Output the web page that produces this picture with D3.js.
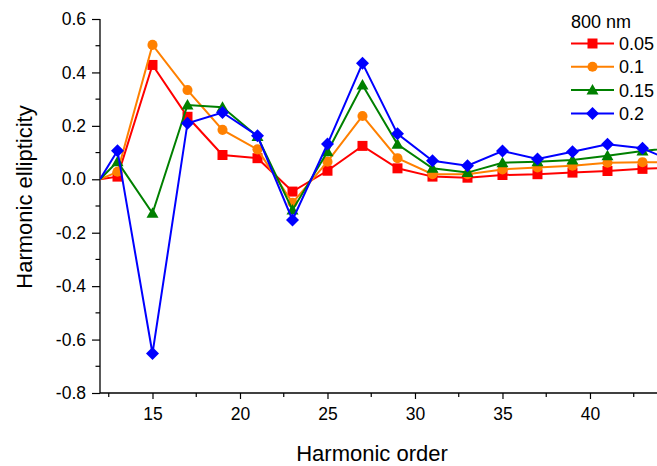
<!DOCTYPE html>
<html>
<head>
<meta charset="utf-8">
<script src="https://cdn.jsdelivr.net/npm/d3@7"></script>
<style>
  body { margin: 0; background: #fff; }
  svg { display: block; font-family: "Liberation Sans", Arial, sans-serif; }
</style>
</head>
<body>
<svg id="chart" width="657" height="466"></svg>
<script>
// harmonic orders (12 is the zero start point, 45 runs off the right edge)
const orders = [12, 13, 15, 17, 19, 21, 23, 25, 27, 29, 31, 33, 35, 37, 39, 41, 43, 45];

const e005 = [0, 0.01, 0.428, 0.234, 0.091, 0.079, -0.046, 0.032, 0.125, 0.041, 0.01, 0.006, 0.016, 0.019, 0.025, 0.031, 0.039, 0.045];
const e010 = [0, 0.028, 0.503, 0.334, 0.185, 0.112, -0.088, 0.066, 0.237, 0.079, 0.019, 0.019, 0.037, 0.044, 0.051, 0.062, 0.064, 0.064];
const e015 = [0, 0.066, -0.127, 0.278, 0.27, 0.16, -0.115, 0.103, 0.353, 0.131, 0.041, 0.025, 0.062, 0.066, 0.072, 0.088, 0.106, 0.12];
const e020 = [0, 0.107, -0.652, 0.21, 0.25, 0.163, -0.152, 0.132, 0.434, 0.17, 0.069, 0.051, 0.106, 0.076, 0.103, 0.131, 0.116, 0.06];

const seriesNames = ["0.05", "0.1", "0.15", "0.2"];
const colors = ["#ff0000", "#ff8000", "#008000", "#0000ff"];
const shapes = ["square", "circle", "triangle", "diamond"];

const yTicks = [0.6, 0.4, 0.2, 0.0, -0.2, -0.4, -0.6, -0.8];
const xTicks = [15, 20, 25, 30, 35, 40];

const svg = d3.select("#chart");
const m = { left: 100, top: 19, right: 657, bottom: 393 };

const x = d3.scaleLinear().domain([12, 43.83]).range([m.left, m.right]);
const y = d3.scaleLinear().domain([-0.8, 0.6]).range([m.bottom, m.top]);

svg.append("defs").append("clipPath").attr("id", "plotclip")
  .append("rect").attr("x", m.left).attr("y", 0).attr("width", m.right - m.left).attr("height", m.bottom);

function markerPath(shape) {
  if (shape === "square") return "M-5,-5H5V5H-5Z";
  if (shape === "circle") return d3.symbol(d3.symbolCircle, 80)();
  if (shape === "triangle") return "M0,-6L6,4.5L-6,4.5Z";
  return "M0,-6.5L6.5,0L0,6.5L-6.5,0Z";
}

// y axis
const yAxis = d3.axisLeft(y).tickValues(yTicks).tickSize(8).tickPadding(6);
const gy = svg.append("g").attr("transform", `translate(${m.left},0)`).call(yAxis);
gy.select(".domain").attr("d", `M0,${m.top}V${m.bottom}`).attr("stroke", "#000").attr("stroke-width", 1.3);
gy.selectAll(".tick line").attr("stroke-width", 1.2);
gy.selectAll(".tick text").attr("font-size", 17.5).attr("fill", "#000")
  .text(d => d3.format(".1f")(d).replace("−", "-"));
gy.selectAll(".minor").data(d3.range(-0.7, 0.6, 0.2)).join("line")
  .attr("x1", -4.5).attr("x2", 0).attr("y1", d => y(d)).attr("y2", d => y(d))
  .attr("stroke", "#000").attr("stroke-width", 1.2);

// x axis
const xAxis = d3.axisBottom(x).tickValues(xTicks).tickSize(6).tickPadding(9);
const gx = svg.append("g").attr("transform", `translate(0,${m.bottom})`).call(xAxis);
gx.select(".domain").attr("d", `M${m.left},0H${m.right}`).attr("stroke", "#000").attr("stroke-width", 1.3);
gx.selectAll(".tick line").attr("stroke-width", 1.2);
gx.selectAll(".tick text").attr("font-size", 17.5).attr("fill", "#000");
gx.selectAll(".minor").data(d3.range(12.5, 44, 5)).join("line")
  .attr("x1", d => x(d)).attr("x2", d => x(d)).attr("y1", 0).attr("y2", 4)
  .attr("stroke", "#000").attr("stroke-width", 1.2);

// axis titles
svg.append("text").attr("x", 372).attr("y", 461).attr("text-anchor", "middle")
  .attr("font-size", 22).attr("fill", "#000").text("Harmonic order");
svg.append("text").attr("transform", "translate(32,197) rotate(-90)").attr("text-anchor", "middle")
  .attr("font-size", 22).attr("fill", "#000").text("Harmonic ellipticity");

// series
const allSeries = [e005, e010, e015, e020];
const line = d3.line().x((d, i) => x(orders[i])).y(d => y(d));
const plot = svg.append("g").attr("clip-path", "url(#plotclip)");

allSeries.forEach((vals, s) => {
  const g = plot.append("g");
  g.append("path").datum(vals).attr("d", line)
    .attr("fill", "none").attr("stroke", colors[s]).attr("stroke-width", 2);
  g.selectAll("path.mk").data(vals.map((v, i) => [orders[i], v]).filter(d => d[0] > 12))
    .join("path").attr("class", "mk")
    .attr("transform", d => `translate(${x(d[0])},${y(d[1])})`)
    .attr("d", markerPath(shapes[s]))
    .attr("fill", colors[s]);
});

// legend
const legend = svg.append("g");
legend.append("text").attr("x", 571).attr("y", 28).attr("font-size", 18).attr("fill", "#000").text("800 nm");
seriesNames.forEach((name, s) => {
  const ly = 43.5 + s * 23.3;
  legend.append("line").attr("x1", 571).attr("x2", 614).attr("y1", ly).attr("y2", ly)
    .attr("stroke", colors[s]).attr("stroke-width", 2);
  legend.append("path").attr("transform", `translate(592.5,${ly})`)
    .attr("d", markerPath(shapes[s])).attr("fill", colors[s]);
  legend.append("text").attr("x", 619).attr("y", ly + 6.5).attr("font-size", 18).attr("fill", "#000").text(name);
});
</script>
</body>
</html>
